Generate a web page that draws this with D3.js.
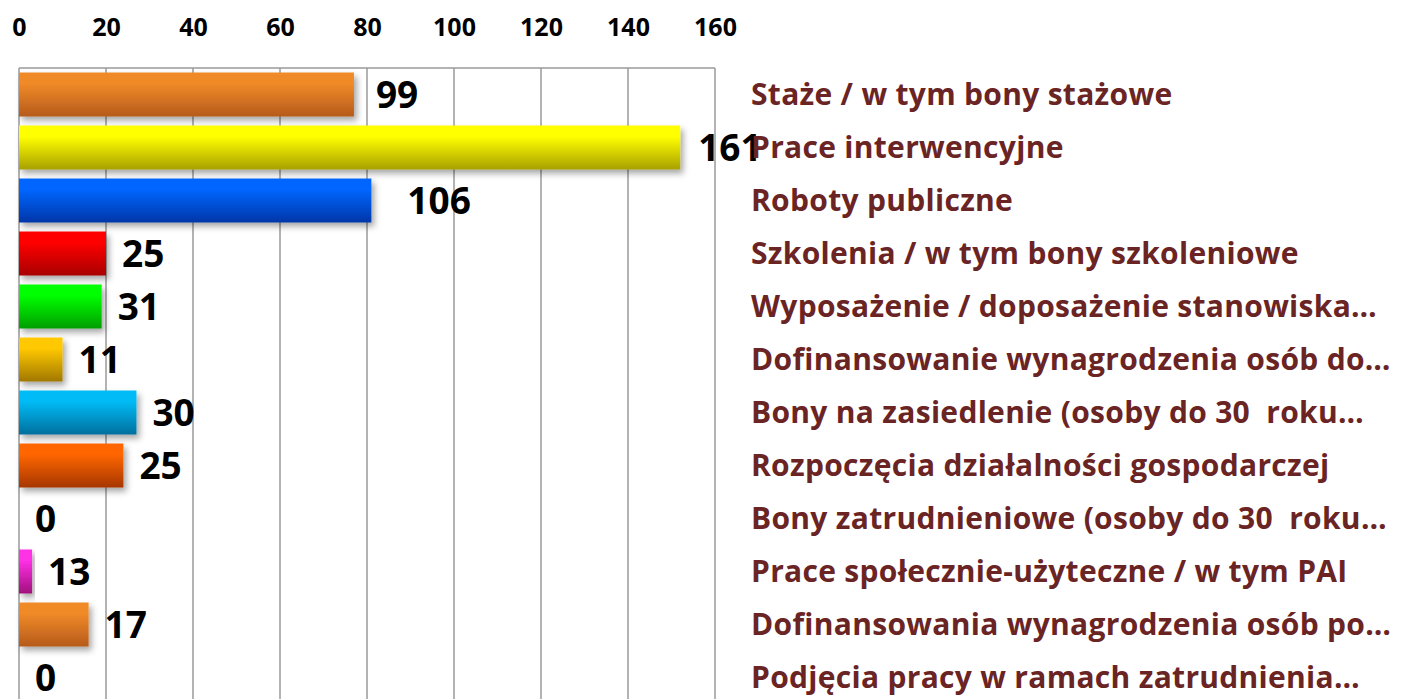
<!DOCTYPE html>
<html>
<head>
<meta charset="utf-8">
<script src="https://cdn.jsdelivr.net/npm/d3@7"></script>
<style>
  body { margin: 0; background: #fff; }
  svg { display: block; }
</style>
</head>
<body>
<div id="chart"></div>
<script>
// categories, top to bottom
const categories = [
    "Staże / w tym bony stażowe",
    "Prace interwencyjne",
    "Roboty publiczne",
    "Szkolenia / w tym bony szkoleniowe",
    "Wyposażenie / doposażenie stanowiska…",
    "Dofinansowanie wynagrodzenia osób do…",
    "Bony na zasiedlenie (osoby do 30  roku…",
    "Rozpoczęcia działalności gospodarczej",
    "Bony zatrudnieniowe (osoby do 30  roku…",
    "Prace społecznie-użyteczne / w tym PAI",
    "Dofinansowania wynagrodzenia osób po…",
    "Podjęcia pracy w ramach zatrudnienia…"
];
// bar lengths as drawn in the picture
const barValues = [77, 152, 81, 20, 19, 10, 27, 24, 0, 3, 16, 0];
// value labels as printed next to the bars
const labelValues = [99, 161, 106, 25, 31, 11, 30, 25, 0, 13, 17, 0];
const ticks = [0, 20, 40, 60, 80, 100, 120, 140, 160];

// bar colours: light (top) -> dark (bottom)
const barColors = [
    ["#f08a28", "#b65a1c"],
    ["#ffff00", "#a8a000"],
    ["#0066ff", "#0036a8"],
    ["#ff0000", "#a80000"],
    ["#00ff00", "#009e00"],
    ["#ffc800", "#a07800"],
    ["#00bbf5", "#006f9e"],
    ["#ff6600", "#a63600"],
    ["#cccccc", "#999999"],
    ["#ff30e6", "#a0107c"],
    ["#f08a28", "#b65a1c"],
    ["#cccccc", "#999999"]
];

const W = 1418, H = 699;
const plot = {left: 19, right: 715, top: 68};

const svg = d3.select("#chart").append("svg")
    .attr("width", W)
    .attr("height", H)
    .style("font-family", "'Open Sans', 'Noto Sans', sans-serif")
    .style("font-weight", "bold");

const x = d3.scaleLinear()
    .domain([0, 160])
    .range([plot.left, plot.right]);

const y = d3.scaleBand()
    .domain(categories)
    .range([plot.top, plot.top + 53 * categories.length])
    .paddingInner(0.17)
    .paddingOuter(0.085);

const defs = svg.append("defs");

barColors.forEach((c, i) => {
    const g = defs.append("linearGradient")
        .attr("id", "grad" + i)
        .attr("x1", 0).attr("y1", 0).attr("x2", 0).attr("y2", 1);
    g.append("stop").attr("offset", "0%").attr("stop-color", c[0]);
    g.append("stop").attr("offset", "25%").attr("stop-color", c[0]);
    g.append("stop").attr("offset", "100%").attr("stop-color", c[1]);
});

const shadow = defs.append("filter")
    .attr("id", "shadow")
    .attr("x", "-10%").attr("y", "-20%")
    .attr("width", "130%").attr("height", "160%");
shadow.append("feDropShadow")
    .attr("dx", 3).attr("dy", 4)
    .attr("stdDeviation", 3)
    .attr("flood-color", "#000")
    .attr("flood-opacity", 0.35);

// grid lines
svg.append("g")
    .selectAll("line")
    .data(ticks)
    .join("line")
        .attr("x1", d => x(d))
        .attr("x2", d => x(d))
        .attr("y1", plot.top)
        .attr("y2", H)
        .attr("stroke", "#9a9a9a")
        .attr("stroke-width", 1.5);

// top border
svg.append("line")
    .attr("x1", x(0)).attr("x2", x(160))
    .attr("y1", plot.top).attr("y2", plot.top)
    .attr("stroke", "#9a9a9a")
    .attr("stroke-width", 1.5);

// top axis
const xAxis = svg.append("g")
    .attr("transform", `translate(0, 36)`)
    .call(d3.axisTop(x).tickValues(ticks).tickSize(0).tickPadding(0));
xAxis.select(".domain").remove();
xAxis.selectAll("text")
    .attr("font-family", "'Open Sans', sans-serif")
    .attr("font-weight", "bold")
    .attr("font-size", 25)
    .attr("fill", "#000")
    .attr("dy", 0);

// bars
svg.append("g")
    .selectAll("rect")
    .data(categories)
    .join("rect")
        .attr("x", x(0))
        .attr("y", d => y(d))
        .attr("width", (d, i) => x(barValues[i]) - x(0))
        .attr("height", y.bandwidth())
        .attr("fill", (d, i) => `url(#grad${i})`)
        .attr("filter", "url(#shadow)")
        .style("display", (d, i) => barValues[i] > 0 ? null : "none");

// value labels (some were moved by hand in the original)
const nudge = {0: 6, 1: 2, 2: 20};
svg.append("g")
    .selectAll("text")
    .data(categories)
    .join("text")
        .attr("x", (d, i) => x(barValues[i]) + 16 + (nudge[i] || 0))
        .attr("y", d => y(d) + y.bandwidth() / 2 + 13)
        .attr("font-size", 37)
        .attr("fill", "#000")
        .text((d, i) => labelValues[i]);

// category labels on the right
svg.append("g")
    .selectAll("text")
    .data(categories)
    .join("text")
        .attr("x", 751)
        .attr("y", d => y(d) + y.bandwidth() / 2 + 10)
        .attr("font-size", 30)
        .attr("letter-spacing", 0.3)
        .attr("fill", "#6b2424")
        .style("white-space", "pre")
        .text(d => d);
</script>
</body>
</html>
